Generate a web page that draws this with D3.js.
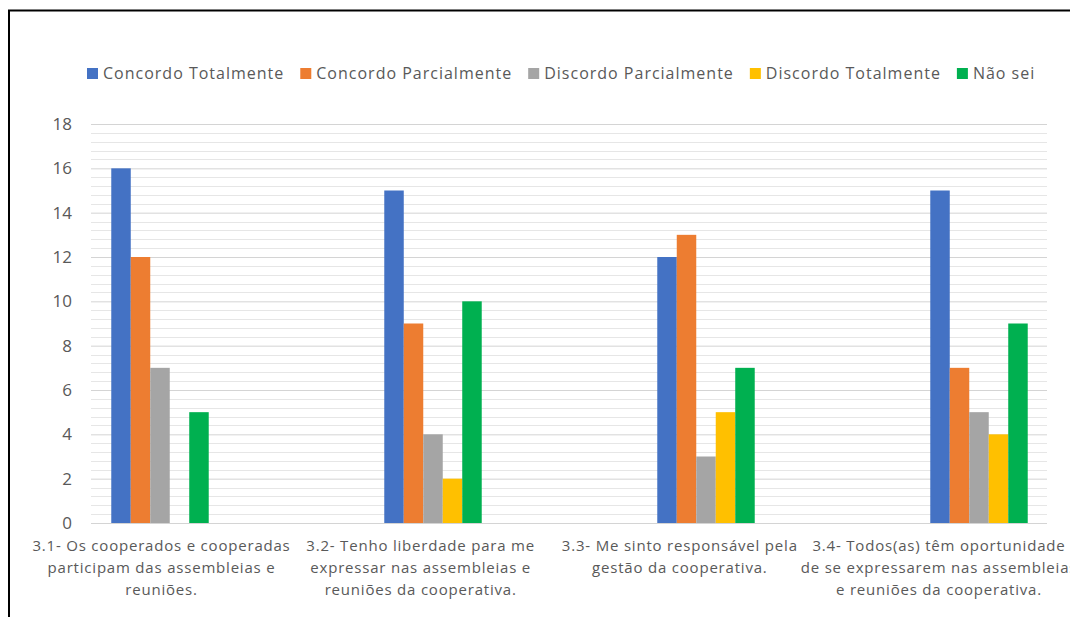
<!DOCTYPE html>
<html>
<head>
<meta charset="utf-8">
<script src="https://cdn.jsdelivr.net/npm/d3@7"></script>
<style>
  html, body { margin: 0; padding: 0; background: #fff; }
  svg { display: block; }
  text { font-family: "Open Sans", "Noto Sans", sans-serif; fill: #595959; }
</style>
</head>
<body>
<svg id="chart" width="1070" height="617"></svg>
<script>
// Survey answers per statement
const categories = ["3.1", "3.2", "3.3", "3.4"];
const categoryLabels = [
  ["3.1- Os cooperados e cooperadas", "participam das assembleias e", "reuniões."],
  ["3.2- Tenho liberdade para me", "expressar nas assembleias e", "reuniões da cooperativa."],
  ["3.3- Me sinto responsável pela", "gestão da cooperativa."],
  ["3.4- Todos(as) têm oportunidade", "de se expressarem nas assembleias", "e reuniões da cooperativa."]
];
const seriesNames = ["Concordo Totalmente", "Concordo Parcialmente", "Discordo Parcialmente", "Discordo Totalmente", "Não sei"];
const concordoTotalmente   = [16, 15, 12, 15];
const concordoParcialmente = [12, 9, 13, 7];
const discordoParcialmente = [7, 4, 3, 5];
const discordoTotalmente   = [0, 2, 5, 4];
const naoSei               = [5, 10, 7, 9];
const yTicks = [0, 2, 4, 6, 8, 10, 12, 14, 16, 18];

const seriesValues = [concordoTotalmente, concordoParcialmente, discordoParcialmente, discordoTotalmente, naoSei];
const colors = ["#4472C4", "#ED7D31", "#A5A5A5", "#FFC000", "#00B050"];

const svg = d3.select("#chart");

// Outer frame
svg.append("rect")
  .attr("x", 9).attr("y", 10.5).attr("width", 1100).attr("height", 700)
  .attr("fill", "none").attr("stroke", "#000").attr("stroke-width", 2);

const plot = { left: 91, right: 1047, top: 124, bottom: 523 };

const y = d3.scaleLinear().domain([0, 18]).range([plot.bottom, plot.top]);

// Gridlines: minor every 0.4, major every 2
const minorTicks = d3.range(0, 18.001, 0.4).filter(v => Math.abs(v / 2 - Math.round(v / 2)) > 1e-6);
svg.append("g").selectAll("line").data(minorTicks).join("line")
  .attr("x1", plot.left).attr("x2", plot.right)
  .attr("y1", d => Math.round(y(d)) + 0.5).attr("y2", d => Math.round(y(d)) + 0.5)
  .attr("stroke", "#e6e6e6").attr("stroke-width", 1);

const yAxis = d3.axisLeft(y).tickValues(yTicks).tickSize(-(plot.right - plot.left)).tickPadding(19);
const gy = svg.append("g").attr("transform", `translate(${plot.left},0)`).call(yAxis);
gy.select(".domain").remove();
gy.selectAll(".tick line").attr("stroke", "#d4d4d4");
gy.selectAll(".tick text").attr("font-size", 17).style("fill", "#595959")
  .style("font-family", '"Open Sans", sans-serif');

// Bars
const x0 = d3.scaleBand().domain(categories).range([23.5, 1115.5]).paddingInner(0.643).paddingOuter(0.3215);
const x1 = d3.scaleBand().domain(seriesNames).range([0, x0.bandwidth()]);

const groups = svg.append("g").selectAll("g").data(categories).join("g")
  .attr("transform", d => `translate(${x0(d)},0)`);
groups.selectAll("rect")
  .data((c, i) => seriesNames.map((s, k) => ({ s, k, v: seriesValues[k][i] })))
  .join("rect")
  .attr("x", d => x1(d.s))
  .attr("width", x1.bandwidth())
  .attr("y", d => y(d.v))
  .attr("height", d => y(0) - y(d.v))
  .attr("fill", d => colors[d.k]);

// Category labels
const xl = d3.scalePoint().domain(categories).range([161.5, 939]);
const labels = svg.append("g").selectAll("text").data(categories).join("text")
  .attr("text-anchor", "middle").attr("font-size", 15).style("letter-spacing", "0.8px");
labels.each(function (c, i) {
  d3.select(this).selectAll("tspan").data(categoryLabels[i]).join("tspan")
    .attr("x", xl(c)).attr("y", (d, j) => 551 + j * 22).text(d => d);
});

// Legend
const legend = svg.append("g").attr("transform", "translate(87,73)");
let lx = 0;
seriesNames.forEach((name, k) => {
  const item = legend.append("g").attr("transform", `translate(${lx},0)`);
  item.append("rect").attr("x", 0).attr("y", -5).attr("width", 11).attr("height", 11).attr("fill", colors[k]);
  const t = item.append("text").attr("x", 16).attr("y", 6).attr("font-size", 16)
    .style("letter-spacing", "1px").text(name);
  lx += 16 + t.node().getComputedTextLength() + 16;
});
</script>
</body>
</html>
